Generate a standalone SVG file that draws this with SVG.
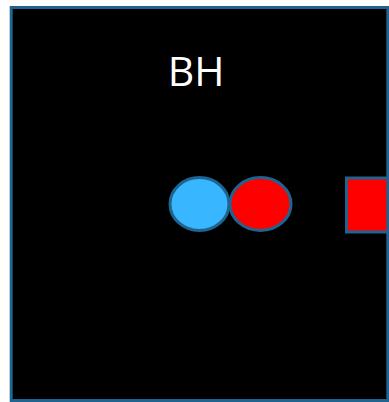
<svg xmlns="http://www.w3.org/2000/svg" width="389" height="402" viewBox="0 0 389 402">
<style>
.edge{stroke:#1f6390;stroke-width:3}
.lbl{font-family:"Open Sans","Noto Sans",sans-serif;font-size:41px;fill:#ffffff;text-anchor:middle}
</style>
<rect width="389" height="402" fill="#ffffff"/>
<g id="bh">
<rect x="11.2" y="7.5" width="377" height="393" fill="#000000" class="edge"/>
<text x="196" y="86" class="lbl">BH</text>
</g>
<g id="red-square">
<rect x="346.5" y="178" width="46" height="54" fill="#ff0000" class="edge"/>
</g>
<g id="blue-ellipse">
<ellipse cx="199.5" cy="204" rx="29.5" ry="26.5" fill="#38b6ff" class="edge"/>
</g>
<g id="red-ellipse">
<ellipse cx="260.5" cy="204" rx="30.5" ry="26.5" fill="#ff0000" class="edge"/>
</g>
<g id="bh-border">
<line x1="387.9" y1="7.5" x2="387.9" y2="400.5" class="edge"/>
</g>
<g id="connectors"></g>
</svg>
